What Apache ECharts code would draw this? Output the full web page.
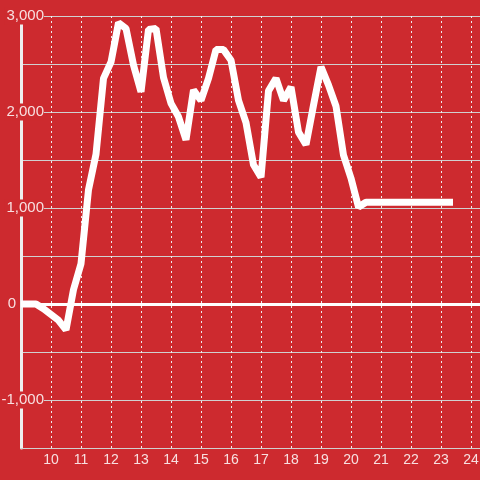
<!DOCTYPE html>
<html>
<head>
<meta charset="utf-8">
<script src="https://cdn.jsdelivr.net/npm/echarts@6/dist/echarts.min.js"></script>
<style>
  html, body { margin: 0; padding: 0; background: #cd2a2f; }
  #chart { width: 480px; height: 480px; }
</style>
</head>
<body>
<div id="chart"></div>
<script>
// hour of day (quarter-hour steps) and running value
const hours = [9.0, 9.25, 9.5, 9.75, 10.0, 10.25, 10.5, 10.75, 11.0, 11.25, 11.5, 11.75,
  12.0, 12.25, 12.5, 12.75, 13.0, 13.25, 13.5, 13.75, 14.0, 14.25, 14.5, 14.75,
  15.0, 15.25, 15.5, 15.75, 16.0, 16.25, 16.5, 16.75, 17.0, 17.25, 17.5, 17.75,
  18.0, 18.25, 18.5, 18.75, 19.0, 19.25, 19.5, 19.75, 20.0, 20.25, 20.5, 23.4];
const values = [0, 0, 0, -50, -110, -170, -270, 150, 420, 1190, 1560, 2350,
  2520, 2930, 2870, 2490, 2210, 2860, 2870, 2360, 2090, 1950, 1710, 2230,
  2120, 2350, 2650, 2650, 2540, 2120, 1890, 1450, 1320, 2220, 2350, 2120,
  2260, 1790, 1660, 2070, 2470, 2280, 2060, 1550, 1310, 1010, 1060, 1060];

const bg = '#cd2a2f';
const labelColor = 'rgba(255,255,255,0.85)';

const chart = echarts.init(document.getElementById('chart'));

const seriesData = hours.map((h, i) => [h, values[i]]);

chart.setOption({
  backgroundColor: bg,
  animation: false,
  grid: { left: 21, right: 0, top: 16, bottom: 32, outerBoundsMode: 'none' },
  xAxis: {
    type: 'value',
    min: 9,
    max: 24.3,
    interval: 1,
    axisLine: { show: true, onZero: false, lineStyle: { color: '#d0d0d0', width: 1 } },
    axisTick: { show: false },
    axisLabel: {
      color: labelColor,
      fontSize: 14,
      fontFamily: 'Liberation Sans',
      margin: 5,
      formatter: v => (v === 9 ? '' : String(v))
    },
    splitLine: { show: true, lineStyle: { color: '#eeeeee', width: 1, type: [2, 3] } }
  },
  yAxis: {
    type: 'value',
    min: -1500,
    max: 3000,
    interval: 500,
    axisLine: { show: true, lineStyle: { color: '#eeeeee', width: 3 } },
    axisTick: { show: false },
    axisLabel: {
      color: labelColor,
      fontSize: 15,
      fontFamily: 'Liberation Sans',
      align: 'right',
      margin: -23,
      formatter: v => {
        if (v % 1000 !== 0) return '';
        if (v === 0) return '{z|0}';
        return '{n|' + v.toLocaleString('en-US') + '}';
      },
      rich: {
        n: { backgroundColor: bg, padding: [1, 0, 1, 2], fontSize: 15, color: labelColor, fontFamily: 'Liberation Sans' },
        z: { padding: [0, 28, 0, 0], fontSize: 15, color: labelColor, fontFamily: 'Liberation Sans' }
      }
    },
    splitLine: { show: true, lineStyle: { color: '#d0d0d0', width: 1 } }
  },
  series: [
    {
      type: 'line',
      data: seriesData,
      showSymbol: false,
      lineStyle: { color: '#ffffff', width: 7 },
      markLine: {
        silent: true,
        symbol: ['none', 'none'],
        label: { show: false },
        lineStyle: { color: '#ffffff', width: 3, type: 'solid' },
        data: [{ yAxis: 0 }]
      }
    }
  ]
});
</script>
</body>
</html>
